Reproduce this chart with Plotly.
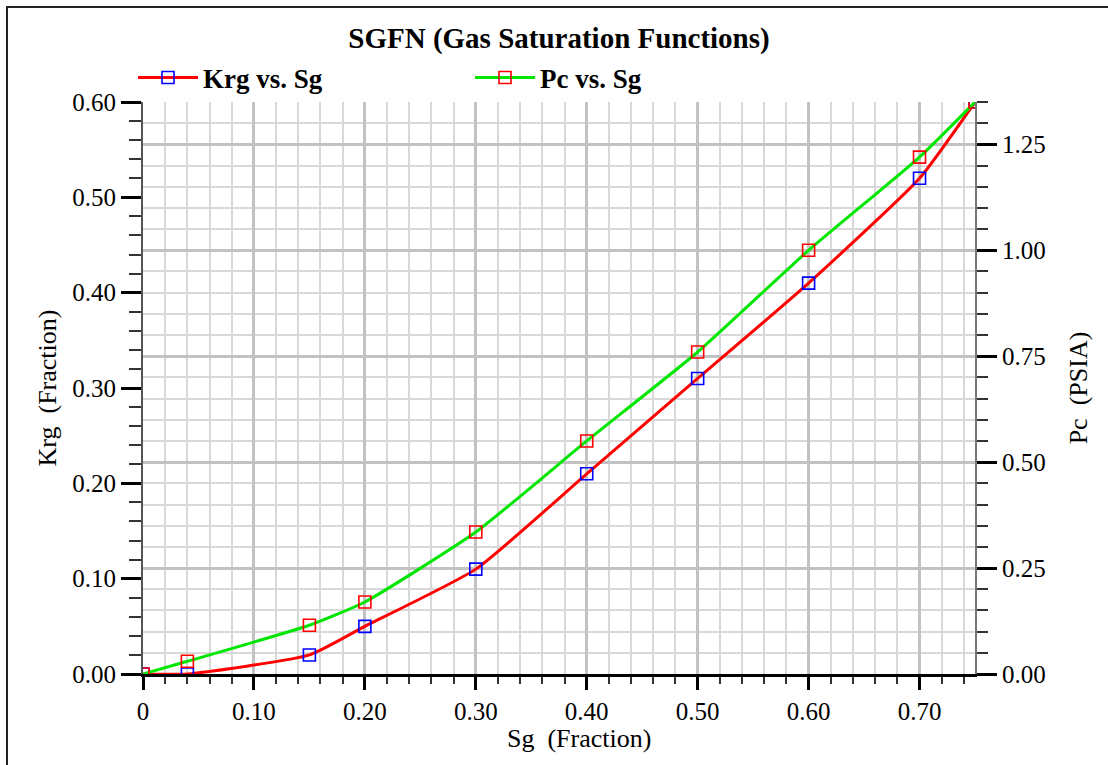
import plotly.graph_objects as go

# Gas saturation table (SGFN)
sg = [0.0, 0.04, 0.15, 0.20, 0.30, 0.40, 0.50, 0.60, 0.70, 0.75]
krg = [0.0, 0.0, 0.02, 0.05, 0.11, 0.21, 0.31, 0.41, 0.52, 0.60]
pc = [0.0, 0.03, 0.115, 0.17, 0.335, 0.55, 0.76, 1.0, 1.22, 1.35]

x_ticks = [0.0, 0.1, 0.2, 0.3, 0.4, 0.5, 0.6, 0.7]
x_labels = ["0", "0.10", "0.20", "0.30", "0.40", "0.50", "0.60", "0.70"]
krg_ticks = [0.0, 0.1, 0.2, 0.3, 0.4, 0.5, 0.6]
krg_labels = ["0.00", "0.10", "0.20", "0.30", "0.40", "0.50", "0.60"]
pc_ticks = [0.0, 0.25, 0.5, 0.75, 1.0, 1.25]
pc_labels = ["0.00", "0.25", "0.50", "0.75", "1.00", "1.25"]

FONT = "Liberation Serif"
TICK_SIZE = 25
LABEL_SIZE = 26
MAJOR_GRID = "#c2c2c2"
MINOR_GRID = "#d8d8d8"

fig = go.Figure()

fig.add_trace(go.Scatter(
    x=sg, y=krg, name="Krg vs. Sg", mode="lines+markers",
    line=dict(color="#ff0000", width=3, shape="spline", smoothing=0.5),
    marker=dict(symbol="square-open", size=12, color="#0000ff",
                line=dict(width=1.6, color="#0000ff")),
    yaxis="y",
))
fig.add_trace(go.Scatter(
    x=sg, y=pc, name="Pc vs. Sg", mode="lines+markers",
    line=dict(color="#00e600", width=3, shape="spline", smoothing=0.5),
    marker=dict(symbol="square-open", size=12, color="#ff0000",
                line=dict(width=1.6, color="#ff0000")),
    yaxis="y2",
))

fig.update_layout(
    width=1108, height=765,
    margin=dict(l=143, r=133, t=102, b=91),
    paper_bgcolor="white", plot_bgcolor="white",
    font=dict(family=FONT, size=TICK_SIZE, color="black"),
    title=dict(text="<b>SGFN (Gas Saturation Functions)</b>",
               x=0.5, xref="paper", xanchor="center",
               y=1 - 38 / 765, yref="container", yanchor="middle",
               font=dict(family=FONT, size=29, color="black")),
    showlegend=True,
    legend=dict(orientation="h", x=-0.012, xanchor="left",
                y=1.042, yanchor="middle",
                itemwidth=60,
                entrywidth=262, entrywidthmode="pixels",
                font=dict(family=FONT, size=27, color="black", weight="bold"),
                bgcolor="rgba(0,0,0,0)", itemclick=False),
    xaxis=dict(
        range=[0, 0.75], tickvals=x_ticks, ticktext=x_labels,
        ticks="outside", ticklen=13, tickwidth=3, tickcolor="black",
        showline=True, linecolor="black", linewidth=3,
        showgrid=True, gridcolor=MAJOR_GRID, gridwidth=3,
        zeroline=False,
        minor=dict(dtick=0.02, tick0=0, ticks="outside", ticklen=7,
                   tickwidth=2, tickcolor="#333333",
                   showgrid=True, gridcolor=MINOR_GRID, gridwidth=2),
        tickfont=dict(family=FONT, size=TICK_SIZE),
    ),
    yaxis=dict(
        range=[0, 0.6], tickvals=krg_ticks, ticktext=krg_labels,
        ticks="outside", ticklen=20, tickwidth=3, tickcolor="black",
        showline=True, linecolor="#555555", linewidth=2,
        showgrid=False, zeroline=False,
        minor=dict(dtick=0.02, tick0=0, ticks="outside", ticklen=12,
                   tickwidth=2, tickcolor="#333333", showgrid=False),
        title=dict(text="Krg\u00a0 (Fraction)", standoff=8,
                   font=dict(family=FONT, size=LABEL_SIZE)),
        tickfont=dict(family=FONT, size=TICK_SIZE),
    ),
    yaxis2=dict(
        range=[0, 1.35], overlaying="y", side="right",
        tickvals=pc_ticks, ticktext=pc_labels,
        ticks="outside", ticklen=20, tickwidth=3, tickcolor="black",
        showline=True, linecolor="#777777", linewidth=2,
        showgrid=True, gridcolor=MAJOR_GRID, gridwidth=3,
        zeroline=False,
        minor=dict(dtick=0.05, tick0=0, ticks="outside", ticklen=11,
                   tickwidth=2, tickcolor="#333333",
                   showgrid=True, gridcolor=MINOR_GRID, gridwidth=2),
        title=dict(text="Pc\u00a0 (PSIA)", standoff=24,
                   font=dict(family=FONT, size=LABEL_SIZE)),
        tickfont=dict(family=FONT, size=TICK_SIZE),
    ),
)

# X-axis caption, placed slightly right of centre
fig.add_annotation(text="Sg\u00a0 (Fraction)", xref="paper", yref="paper",
                   x=0.524, y=(674 - 739) / 572, xanchor="center",
                   yanchor="middle", showarrow=False,
                   font=dict(family=FONT, size=LABEL_SIZE, color="black"))

# Frame around the whole chart
fig.add_shape(type="rect", xref="paper", yref="paper",
              x0=(7 - 143) / 832, x1=(1120 - 143) / 832,
              y0=(674 - 780) / 572, y1=(674 - 7) / 572,
              line=dict(color="#222222", width=2), layer="above")

fig.write_html("out.html")
